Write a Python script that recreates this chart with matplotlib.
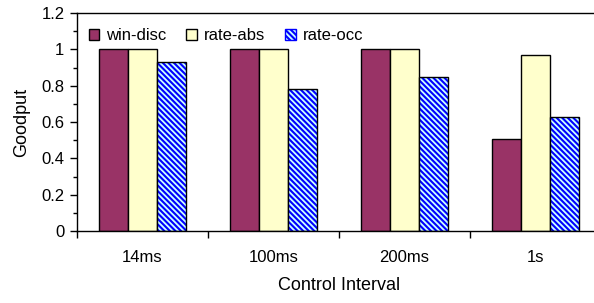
import numpy as np
import matplotlib
matplotlib.use('Agg')
import matplotlib.pyplot as plt
from matplotlib.patches import Patch
from matplotlib.ticker import FixedLocator, FuncFormatter, MultipleLocator

plt.rcParams['font.family'] = ['Liberation Sans', 'DejaVu Sans']
plt.rcParams['hatch.linewidth'] = 1.5

# ============================================================
# 数据
# ============================================================
categories = ['14ms', '100ms', '200ms', '1s']
series_names = ['win-disc', 'rate-abs', 'rate-occ']
win_disc = [1.0, 1.0, 1.0, 0.505]
rate_abs = [1.0, 1.0, 1.0, 0.97]
rate_occ = [0.93, 0.78, 0.845, 0.625]

HATCH = '\\' * 6

fig = plt.figure(figsize=(5.94, 3.03), dpi=100)
ax = fig.add_axes([0.1296, 0.2376, 0.882, 0.7195])

x = np.arange(len(categories))
w = 0.222

ax.bar(x - w, win_disc, w, color='#993366', edgecolor='black', linewidth=1.0)
ax.bar(x, rate_abs, w, color='#ffffcc', edgecolor='black', linewidth=1.0)
# hatch pass (blue stripes), then black outline
ax.bar(x + w, rate_occ, w, color='#ccffff', edgecolor='#0000ff',
       hatch=HATCH, linewidth=0)
ax.bar(x + w, rate_occ, w, color='none', edgecolor='black', linewidth=1.0)

ax.set_xlim(-0.5, len(categories) - 0.5)
ax.set_ylim(0, 1.2)

# y ticks
ax.yaxis.set_major_locator(MultipleLocator(0.2))
ax.yaxis.set_minor_locator(MultipleLocator(0.1))
ax.yaxis.set_major_formatter(FuncFormatter(lambda v, p: f'{v:g}'))
ax.tick_params(axis='y', which='major', length=5, width=1.0, labelsize=12, pad=4)
ax.tick_params(axis='y', which='minor', length=3, width=1.0)

# x ticks: marks at boundaries, labels at centres
ax.xaxis.set_major_locator(FixedLocator(np.arange(len(categories) + 1) - 0.5))
ax.xaxis.set_major_formatter(FuncFormatter(lambda v, p: ''))
ax.xaxis.set_minor_locator(FixedLocator(x))
ax.set_xticklabels(categories, minor=True)
ax.tick_params(axis='x', which='major', length=5, width=1.0)
ax.tick_params(axis='x', which='minor', length=0, labelsize=12, pad=14)

for s in ['left', 'bottom', 'top', 'right']:
    ax.spines[s].set_linewidth(1.0)

ax.set_ylabel('Goodput', fontsize=13, labelpad=8)
ax.set_xlabel('Control Interval', fontsize=13, labelpad=8)

handles = [
    Patch(facecolor='#993366', edgecolor='black', linewidth=1.0),
    Patch(facecolor='#ffffcc', edgecolor='black', linewidth=1.0),
    Patch(facecolor='#ccffff', edgecolor='#0000ff', hatch=HATCH, linewidth=1.0),
]
ax.legend(handles, series_names, loc='upper left', ncol=3, frameon=False,
          fontsize=12, handlelength=0.65, handleheight=0.65, handletextpad=0.4,
          columnspacing=1.2, bbox_to_anchor=(0.0, 0.985), borderaxespad=0.3)

fig.savefig('out.png', dpi=100)
